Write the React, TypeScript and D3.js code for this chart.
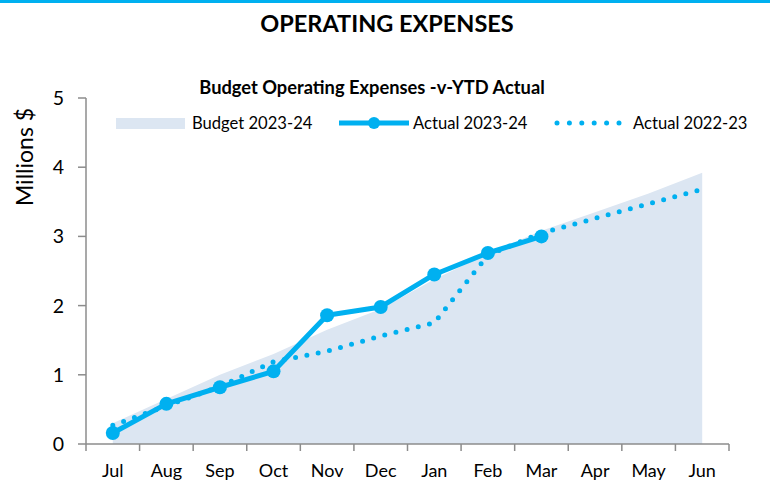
import React from "react";
import * as d3 from "d3";

const months = ["Jul", "Aug", "Sep", "Oct", "Nov", "Dec", "Jan", "Feb", "Mar", "Apr", "May", "Jun"];
const budget2324 = [0.3, 0.65, 1.0, 1.3, 1.65, 1.95, 2.38, 2.75, 3.08, 3.35, 3.62, 3.92];
const actual2324 = [0.16, 0.58, 0.82, 1.05, 1.86, 1.98, 2.45, 2.76, 3.0];
const actual2223 = [0.27, 0.55, 0.83, 1.19, 1.34, 1.56, 1.75, 2.73, 3.05, 3.26, 3.47, 3.68];
const yTicks = [0, 1, 2, 3, 4, 5];

const W = 770;
const H = 481;
const BLUE = "#00B0F0";
const AREA = "#DCE6F2";
const AXIS = "#8C8C8C";
const FONT = "Lato, 'Open Sans', sans-serif";

export default function App() {
  const x0 = 86;
  const x1 = 729;
  const yTop = 98;
  const yBot = 444;
  const x = d3.scaleBand<string>().domain(months).range([x0, x1]);
  const cx = (m: string) => (x(m) as number) + x.bandwidth() / 2;
  const y = d3.scaleLinear().domain([0, 5]).range([yBot, yTop]);

  const area = d3
    .area<number>()
    .x((_, i) => cx(months[i]))
    .y0(y(0))
    .y1((d) => y(d));
  const line = d3
    .line<number>()
    .x((_, i) => cx(months[i]))
    .y((d) => y(d));

  const xTicks = [...months.map((m) => x(m) as number), x1];

  return (
    <svg width={W} height={H} style={{ position: "absolute", left: 0, top: 0, background: "#fff" }}>
      <rect x={0} y={0} width={W} height={3} fill={BLUE} />
      <text x={387} y={32} textAnchor="middle" fontFamily={FONT} fontWeight="bold" fontSize={23.5} fill="#000">
        OPERATING EXPENSES
      </text>
      <text x={372} y={94} textAnchor="middle" fontFamily={FONT} fontWeight="bold" fontSize={18.3} fill="#000">
        Budget Operating Expenses -v-YTD Actual
      </text>

      {/* legend */}
      <rect x={116} y={118} width={69} height={11} fill={AREA} />
      <text x={192} y={129} fontFamily={FONT} fontSize={16.6} fill="#000">Budget 2023-24</text>
      <line x1={339} x2={409} y1={123} y2={123} stroke={BLUE} strokeWidth={5} />
      <circle cx={374} cy={123} r={6} fill={BLUE} />
      <text x={413} y={129} fontFamily={FONT} fontSize={16.6} fill="#000">Actual 2023-24</text>
      <line x1={557} x2={620} y1={123} y2={123} stroke={BLUE} strokeWidth={5} strokeDasharray="0 12.4" strokeLinecap="round" />
      <text x={633} y={129} fontFamily={FONT} fontSize={16.6} fill="#000">Actual 2022-23</text>

      {/* area */}
      <path d={area(budget2324) || ""} fill={AREA} />

      {/* axes */}
      <line x1={x0} x2={x0} y1={yTop} y2={yBot} stroke={AXIS} strokeWidth={1.5} />
      {yTicks.map((t) => (
        <g key={t}>
          <line x1={x0 - 8} x2={x0} y1={y(t)} y2={y(t)} stroke={AXIS} strokeWidth={1.5} />
          <text x={64} y={y(t) + 7} textAnchor="end" fontFamily={FONT} fontSize={19.5} fill="#000">
            {t}
          </text>
        </g>
      ))}
      <line x1={x0} x2={x1} y1={yBot} y2={yBot} stroke={AXIS} strokeWidth={1.5} />
      {xTicks.map((t, i) => (
        <line key={i} x1={t} x2={t} y1={yBot} y2={yBot + 7} stroke={AXIS} strokeWidth={1.5} />
      ))}
      {months.map((m) => (
        <text key={m} x={cx(m)} y={477} textAnchor="middle" fontFamily={FONT} fontSize={18} fill="#000">
          {m}
        </text>
      ))}
      <text
        transform={`translate(33,157) rotate(-90)`}
        textAnchor="middle"
        fontFamily={FONT}
        fontSize={23}
        fill="#000"
      >
        Millions $
      </text>

      {/* lines */}
      <path
        d={line(actual2223) || ""}
        fill="none"
        stroke={BLUE}
        strokeWidth={5}
        strokeDasharray="0 11.5"
        strokeLinecap="round"
      />
      <path d={line(actual2324) || ""} fill="none" stroke={BLUE} strokeWidth={5} strokeLinejoin="round" />
      {actual2324.map((v, i) => (
        <circle key={i} cx={cx(months[i])} cy={y(v)} r={7} fill={BLUE} />
      ))}
    </svg>
  );
}
